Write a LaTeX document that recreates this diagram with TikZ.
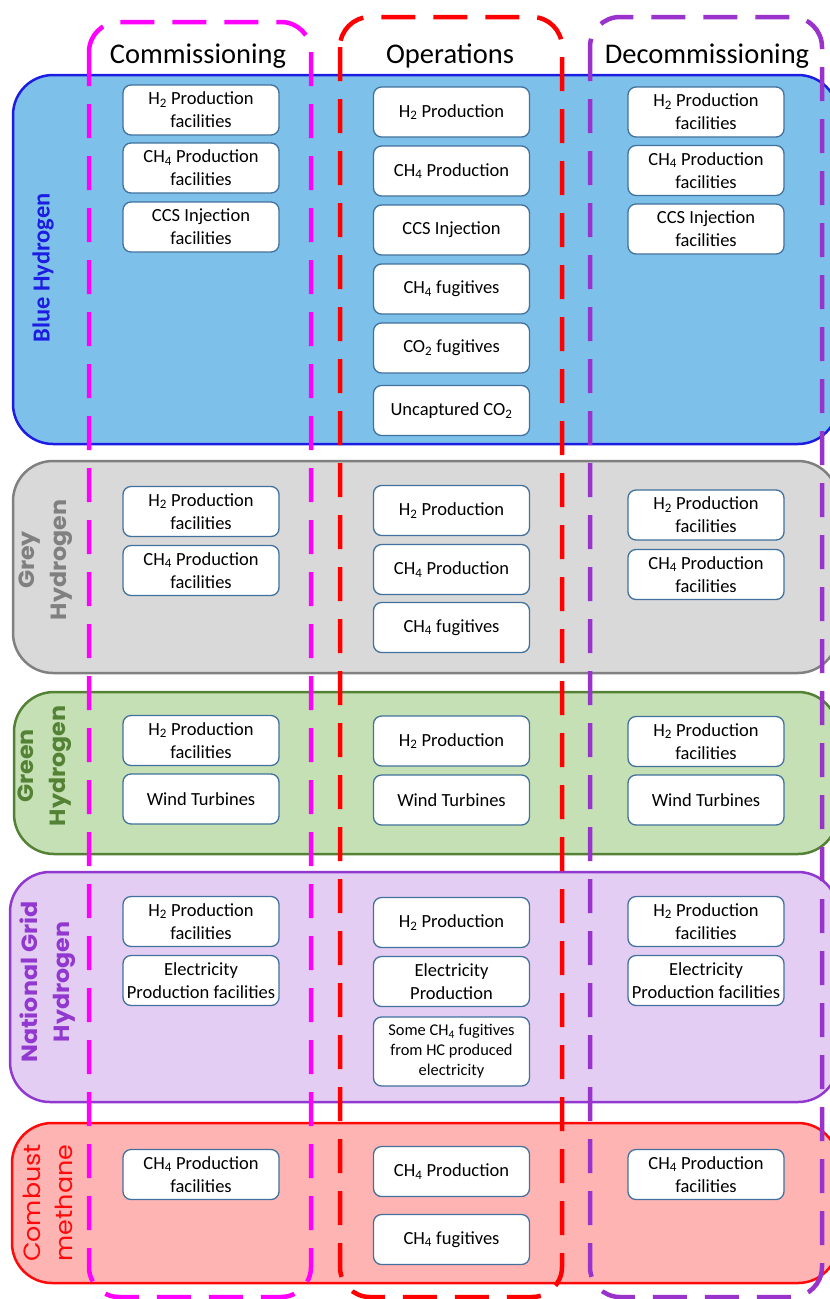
\documentclass[tikz,border=0pt]{standalone}
\usepackage{fontspec}
\setmainfont{Carlito}
\newfontfamily\gothic[FakeStretch=1.08]{Poppins}
\definecolor{bluefill}{HTML}{7DC1EB}
\definecolor{blueline}{HTML}{1C1CE3}
\definecolor{greyfill}{HTML}{D9D9D9}
\definecolor{greyline}{HTML}{808080}
\definecolor{greenfill}{HTML}{C5E0B4}
\definecolor{greenline}{HTML}{548235}
\definecolor{ngfill}{HTML}{E4CDF3}
\definecolor{ngline}{HTML}{9038CF}
\definecolor{cmfill}{HTML}{FFB4B4}
\definecolor{cmline}{HTML}{FF0A0A}
\definecolor{colmag}{HTML}{FF00FF}
\definecolor{colred}{HTML}{FF0000}
\definecolor{colpur}{HTML}{9933CC}
\definecolor{nodeblue}{HTML}{41719C}
\begin{document}
\begin{tikzpicture}[x=1pt,y=-1pt,
  box/.style={draw=nodeblue, fill=white, rounded corners=8pt, line width=1.3pt,
    minimum width=156pt, minimum height=50pt, align=center, inner sep=1pt,
    font=\fontsize{18.5}{23}\selectfont},
  colbox/.style={dash pattern=on 34pt off 18pt, line width=4.5pt, rounded corners=30pt},
  rowbox/.style={line width=2.5pt, rounded corners=40pt},
  rowlabel/.style={rotate=90, align=center, font=\gothic\bfseries\fontsize{22}{32}\selectfont},
  head/.style={font=\fontsize{28.5}{34}\selectfont}]
\useasboundingbox (0,0) rectangle (830,1299);
% rows
\draw[rowbox, draw=blueline, fill=bluefill] (13,75) rectangle (838,444);
\draw[rowbox, draw=greyline, fill=greyfill] (13,461) rectangle (838,673);
\draw[rowbox, draw=greenline, fill=greenfill] (14,692) rectangle (838,854);
\draw[rowbox, draw=ngline, fill=ngfill] (10,872) rectangle (838,1102);
\draw[rowbox, draw=cmline, fill=cmfill] (12,1123) rectangle (838,1283);
% row labels
\node[rotate=90, font=\bfseries\fontsize{24.5}{30}\selectfont, text=blueline] (lblue) at (43,268) {Blue Hydrogen};
\node[rowlabel, text=greyline] (lgrey) at (46,560) {Grey\\Hydrogen};
\node[rowlabel, text=greenline] (lgreen) at (45,766) {Green\\Hydrogen};
\node[rowlabel, text=ngline] (lng) at (48,982) {National Grid\\Hydrogen};
\node[rowlabel, text=cmline, font=\gothic\fontsize{23.5}{32}\selectfont] (lcm) at (48,1203) {Combust\\methane};
% columns
\draw[colbox, draw=colmag] (89,22) rectangle (311,1297);
\draw[colbox, draw=colred] (340,17) rectangle (562,1297);
\draw[colbox, draw=colpur] (590,17) rectangle (822,1297);
% headers
\node[head] (hc) at (198,56) {Commissioning};
\node[head] (ho) at (450,56) {Operations};
\node[head] (hd) at (707,56) {Decommissioning};
% Blue hydrogen
\node[box] (bc1) at (201,110) {H\textsubscript{2} Production\\facilities};
\node[box] (bc2) at (201,168) {CH\textsubscript{4} Production\\facilities};
\node[box] (bc3) at (201,227) {CCS Injection\\facilities};
\node[box] (bo1) at (451.5,112) {H\textsubscript{2} Production};
\node[box] (bo2) at (451.5,171) {CH\textsubscript{4} Production};
\node[box] (bo3) at (451.5,230) {CCS Injection};
\node[box] (bo4) at (451.5,289) {CH\textsubscript{4} fugitives};
\node[box] (bo5) at (451.5,348) {CO\textsubscript{2} fugitives};
\node[box] (bo6) at (451.5,410.5) {Uncaptured CO\textsubscript{2}};
\node[box] (bd1) at (706,112) {H\textsubscript{2} Production\\facilities};
\node[box] (bd2) at (706,170.5) {CH\textsubscript{4} Production\\facilities};
\node[box] (bd3) at (706,229) {CCS Injection\\facilities};
% Grey hydrogen
\node[box] (gc1) at (201,511.5) {H\textsubscript{2} Production\\facilities};
\node[box] (gc2) at (201,570.5) {CH\textsubscript{4} Production\\facilities};
\node[box] (go1) at (451.5,510.5) {H\textsubscript{2} Production};
\node[box] (go2) at (451.5,569.5) {CH\textsubscript{4} Production};
\node[box] (go3) at (451.5,627.5) {CH\textsubscript{4} fugitives};
\node[box] (gd1) at (706,515) {H\textsubscript{2} Production\\facilities};
\node[box] (gd2) at (706,574.5) {CH\textsubscript{4} Production\\facilities};
% Green hydrogen
\node[box] (ec1) at (201,740.5) {H\textsubscript{2} Production\\facilities};
\node[box] (ec2) at (201,799) {Wind Turbines};
\node[box] (eo1) at (451.5,741) {H\textsubscript{2} Production};
\node[box] (eo2) at (451.5,800) {Wind Turbines};
\node[box] (ed1) at (706,741.5) {H\textsubscript{2} Production\\facilities};
\node[box] (ed2) at (706,800) {Wind Turbines};
% National grid hydrogen
\node[box] (nc1) at (201,921.5) {H\textsubscript{2} Production\\facilities};
\node[box] (nc2) at (201,980.5) {Electricity\\Production facilities};
\node[box] (no1) at (451.5,922.5) {H\textsubscript{2} Production};
\node[box] (no2) at (451.5,981.5) {Electricity\\Production};
\node[box, minimum height=69pt, font=\fontsize{16.4}{20}\selectfont] (no3) at (451.5,1051.5) {Some CH\textsubscript{4} fugitives\\from HC produced\\electricity};
\node[box] (nd1) at (706,921.5) {H\textsubscript{2} Production\\facilities};
\node[box] (nd2) at (706,980.5) {Electricity\\Production facilities};
% Combust methane
\node[box] (mc1) at (201,1174.5) {CH\textsubscript{4} Production\\facilities};
\node[box] (mo1) at (451.5,1171.5) {CH\textsubscript{4} Production};
\node[box] (mo2) at (451.5,1239.5) {CH\textsubscript{4} fugitives};
\node[box] (md1) at (706,1174.5) {CH\textsubscript{4} Production\\facilities};
\end{tikzpicture}
\end{document}
